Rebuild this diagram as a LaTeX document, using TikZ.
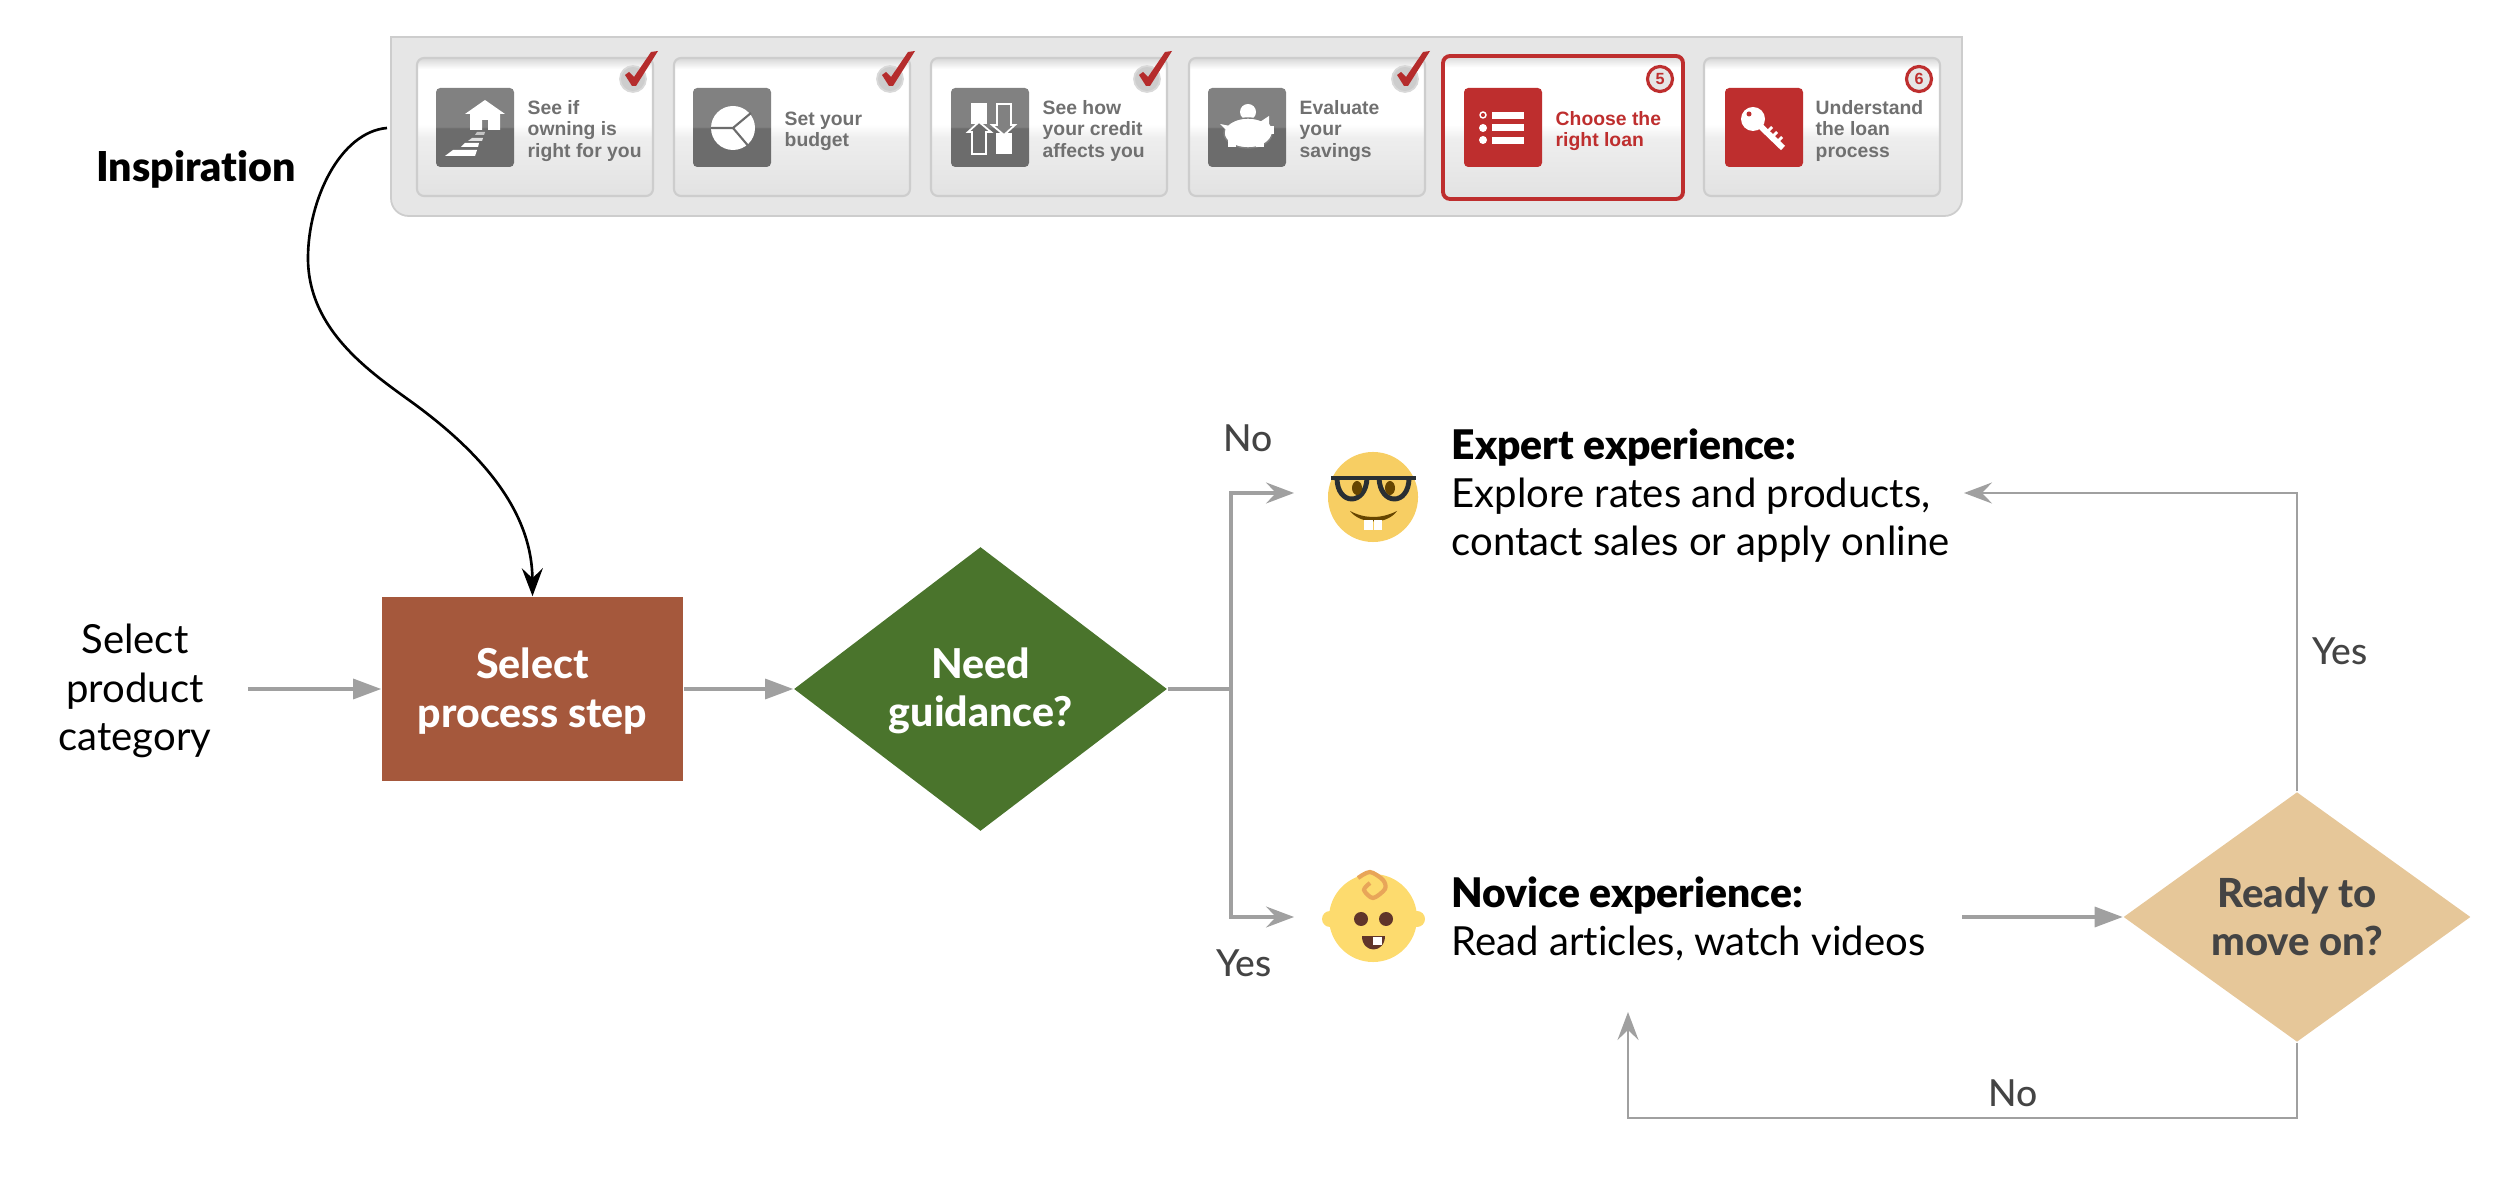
\documentclass[tikz,border=0pt]{standalone}
\usepackage{fontspec}
\setmainfont[Ligatures=NoCommon,BoldFont={Lato Black}]{Lato}
\newfontfamily\cardfont{Liberation Sans}
\newfontfamily\mediumfont[Ligatures=NoCommon]{Lato Medium}
\newfontfamily\heavyfont[Ligatures=NoCommon]{Lato Heavy}
\usetikzlibrary{arrows.meta}
\usetikzlibrary{shapes.geometric}
\definecolor{stepbrown} {RGB}{165, 88, 60}
\definecolor{needgreen} {RGB}{74, 116, 44}
\definecolor{readytan}  {RGB}{230,199,153}
\definecolor{flowgray}  {RGB}{160,160,160}
\definecolor{labelgray} {RGB}{68, 68, 68}
\definecolor{panelgray} {RGB}{230,230,230}
\definecolor{edgegray}  {RGB}{205,205,205}
\definecolor{icontop}   {RGB}{129,129,129}
\definecolor{iconbot}   {RGB}{108,108,108}
\definecolor{cardtext}  {RGB}{112,112,112}
\definecolor{loanred}   {RGB}{190, 46, 46}
\definecolor{cardlow}   {RGB}{226,226,226}
\definecolor{cardmid}   {RGB}{238,238,238}
\definecolor{cardrim}   {RGB}{215,215,215}
\definecolor{nerdyellow}{RGB}{247,206, 99}
\definecolor{babyyellow}{RGB}{253,219,110}
\definecolor{curlorange}{RGB}{232,165, 89}
\definecolor{glassdark} {RGB}{41, 47, 51}
\definecolor{eyebrown}  {RGB}{102, 69,  0}
\definecolor{babybrown} {RGB}{96, 53, 42}
\pgfdeclareverticalshading{cardshade}{100bp}{color(0bp)=(cardlow);color(25bp)=(cardlow);
  color(46bp)=(cardmid);color(51bp)=(white);color(71bp)=(white);color(75bp)=(cardrim);color(100bp)=(cardrim)}
\pgfdeclareverticalshading{iconshade}{100bp}{color(0bp)=(iconbot);color(49.5bp)=(iconbot);color(50.5bp)=(icontop);color(100bp)=(icontop)}
\tikzset{
    bodytext/.style={font=\fontsize{11.4}{13.7}\selectfont, align=center, inner sep=0pt},
    sidetext/.style={bodytext, align=left, anchor=west},
    headtext/.style={font=\heavyfont\fontsize{11.7}{13.7}\selectfont},
    branchlabel/.style={font=\mediumfont\fontsize{10.6}{13}\selectfont, text=labelgray, inner sep=0pt},
    stepbox/.style={rectangle, fill=stepbrown, text=white, bodytext, headtext,
             minimum width=3.01cm, minimum height=1.84cm},
    decision/.style={diamond, bodytext, headtext},
    flowline/.style={draw=flowgray, line width=0.9pt},
    solidflow/.style={flowline, -{Triangle[length=2.8mm,width=2mm]}},
    notchflow/.style={flowline, -{Stealth[length=2.8mm,width=2.1mm,inset=1mm]}},
    cardbox/.style={draw=edgegray, line width=0.6pt, rounded corners=2pt, shading=cardshade},
    grayicon/.style={rounded corners=1.2pt, shading=iconshade},
    redicon/.style={rounded corners=1.2pt, fill=loanred},
    cardlabel/.style={anchor=west, align=left, inner sep=0pt, text=cardtext,
             font=\cardfont\bfseries\fontsize{5.5}{6}\selectfont},
    donecircle/.style={fill=edgegray, draw=white!85!black, line width=0.5pt},
    todocircle/.style={circle, fill=panelgray, draw=loanred, line width=0.9pt, minimum size=.25cm, inner sep=0pt,
             text=loanred, font=\cardfont\bfseries\fontsize{4.6}{5}\selectfont}
}
% one card with its frame, x is the left edge
\newcommand{\stepcard}[1]{\path[cardbox] (#1,58) rectangle ++(236,138);}
% grey disc and red tick, x is the right edge of the card
\newcommand{\cardtick}[1]{
     \filldraw[donecircle] (#1-20,79) circle (13);
     \fill[loanred!95!black] (#1-28,75) -- (#1-24,72) -- (#1-19,77) -- (#1-2,52) -- (#1+5,51) -- (#1-17,86) -- (#1-21,86) -- cycle;
}
\begin{document}
\begin{tikzpicture}[x=0.01cm,y=-0.01cm]
 \useasboundingbox (0,0) rectangle (2500,1183);
 %Panel
     \filldraw[fill=panelgray,draw=edgegray,line width=0.5pt] (391,37) -- (1962,37) [rounded corners=5pt] -- (1962,216) -- (391,216) [sharp corners] -- cycle;
     \stepcard{417}
     \stepcard{674}
     \stepcard{931}
     \stepcard{1189}
     \stepcard{1704}
     \path[cardbox,draw=loanred,line width=1.1pt] (1443,56) rectangle (1683,199);
 %Card icons
     \path[grayicon] (436,88) rectangle ++(78,79);
     \path[grayicon] (693,88) rectangle ++(78,79);
     \path[grayicon] (951,88) rectangle ++(78,79);
     \path[grayicon] (1208,88) rectangle ++(78,79);
     \path[redicon] (1464,88) rectangle ++(78,79);
     \path[redicon] (1725,88) rectangle ++(78,79);
 %House
     \begin{scope}[shift={(436,88)},white]
     \fill (49,12) -- (69,26) -- (64,26) -- (64,42) -- (52,42) -- (52,32) -- (46,32) -- (46,42) -- (34,42) -- (34,26) -- (29,26) -- cycle;
     \fill (9,68) -- (39,68) -- (41,62) -- (17,62) -- cycle;
     \fill (25,59) -- (42,59) -- (43,55) -- (29,55) -- cycle;
     \fill[opacity=.8] (32,53) -- (46,53) -- (47,50) -- (36,50) -- cycle;
     \fill[opacity=.6] (39,47) -- (48,47) -- (49,44) -- (41,44) -- cycle;
     \end{scope}
 %Pie
     \begin{scope}[shift={(693,88)}]
     \fill[white] (40,40) circle (22);
     \draw[iconbot,line width=0.6pt] (18,40) -- (40,40) -- (58,25);
     \draw[iconbot,line width=0.6pt] (40,40) -- (57,60);
     \end{scope}
 %Credit arrows
     \begin{scope}[shift={(951,88)},line width=0.5pt]
     \fill[white] (20,15) rectangle (36,36);
     \filldraw[fill=iconbot,draw=white] (28,34) -- (40,44) -- (35,44) -- (35,66) -- (21,66) -- (21,44) -- (17,44) -- cycle;
     \fill[white] (45,45) rectangle (61,66);
     \filldraw[fill=icontop,draw=white] (46,16) -- (60,16) -- (60,37) -- (64,37) -- (53,47) -- (41,37) -- (46,37) -- cycle;
     \end{scope}
 %Piggy
     \begin{scope}[shift={(1208,88)},white]
     \fill (40,24) circle (8);
     \filldraw[draw=icontop,line width=0.4pt] (40,45) ellipse (24 and 15);
     \fill (54,43) circle (10);
     \fill (58,38) rectangle (66,46);
     \fill (52,34) -- (61,28) -- (61,38) -- cycle;
     \fill (20,52) rectangle (28,59);
     \fill (48,52) rectangle (56,59);
     \fill (12,36) -- (22,38) -- (20,44) -- cycle;
     \end{scope}
 %List
     \begin{scope}[shift={(1464,88)},white]
     \fill (28,24) rectangle (60,31);
     \fill (28,36) rectangle (60,43);
     \fill (28,49) rectangle (60,56);
     \draw[line width=0.4pt] (19,27) circle (3);
     \fill (19,40) circle (4);
     \fill (19,52) circle (4);
     \end{scope}
 %Key
     \begin{scope}[shift={(1725,88)},white]
     \fill (28,31) circle (12);
     \draw[line width=1.7pt] (30,33) -- (58,60);
     \draw[line width=0.8pt] (43,43) -- (47,39) (48,48) -- (52,44) (53,53) -- (57,49);
     \fill[loanred] (24,26) circle (2.5);
     \end{scope}
 %Card marks
     \cardtick{653}
     \cardtick{910}
     \cardtick{1167}
     \cardtick{1425}
     \node[todocircle] (five) at (1660,79) {5};
     \node[todocircle] (six) at (1919,79) {6};
 %Card texts
     \node[cardlabel] (owning) at (527,131) {See if\\owning is\\right for you};
     \node[cardlabel] (budget) at (784,131) {Set your\\budget};
     \node[cardlabel] (credit) at (1042,131) {See how\\your credit\\affects you};
     \node[cardlabel] (savings) at (1299,131) {Evaluate\\your\\savings};
     \node[cardlabel,text=loanred] (loan) at (1555,131) {Choose the\\right loan};
     \node[cardlabel] (process) at (1815,131) {Understand\\the loan\\process};
 %Flow nodes
     \node[bodytext,minimum width=2.24cm] (category) at (135,691) {Select\\product\\category};
     \node[stepbox] (step) at (532.5,689) {\rule{0pt}{.35cm}Select\\process step};
     \node[decision,fill=needgreen,text=white,minimum width=3.73cm,minimum height=2.84cm] (need) at (980.5,689) {\rule{0pt}{.35cm}Need\\guidance?};
     \node[decision,fill=readytan,text=labelgray,font=\heavyfont\fontsize{11.4}{13.7}\selectfont,minimum width=3.47cm,minimum height=2.49cm] (ready) at (2297,917) {Ready to\\move on?};
     \node[bodytext,font=\fontsize{11.7}{13.7}\selectfont\bfseries] (inspiration) at (196,169) {Inspiration};
     \node[sidetext] (expert) at (1451,495.5) {{\bfseries\fontsize{11.6}{13.7}\selectfont Expert experience:}\\Explore rates and products,\\contact sales or apply online};
     \node[sidetext] (novice) at (1451,919) {{\bfseries\fontsize{11.6}{13.7}\selectfont Novice experience:}\\Read articles, watch videos};
 %Branch labels
     \node[branchlabel] (lblno) at (1248,438) {No};
     \node[branchlabel] (lblyes) at (1244,963) {Yes};
     \node[branchlabel] (lblmove) at (2340,651) {Yes};
     \node[branchlabel] (lblback) at (2013,1093) {No};
 %Free ends
     \coordinate (panelend) at (387,128);
     \coordinate (split) at (1231,689);
     \coordinate (nerdin) at (1294,493);
     \coordinate (babyin) at (1294,917);
     \coordinate (expertin) at (1964,493);
     \coordinate (novicein) at (1628,1012);
     \coordinate (noviceout) at (1962,917);
 %Nerd face
     \node[circle,fill=nerdyellow,minimum size=.9cm,inner sep=0pt] (nerd) at (1373,497) {};
     \begin{scope}[shift={(1373,497)}]
     \draw[glassdark,line width=1.3pt] (-42,-19) -- (43,-19);
     \draw[glassdark,line width=1.4pt] (-36,-19) .. controls (-36,9) and (-7,9) .. (-6,-19);
     \draw[glassdark,line width=1.4pt] (6,-19) .. controls (7,9) and (36,9) .. (36,-19);
     \fill[eyebrown] (-16,-9) ellipse (5 and 7);
     \fill[eyebrown] (17,-9) ellipse (5 and 7);
     \fill[eyebrown] (-23,14) .. controls (-8,22) and (8,22) .. (24,14) .. controls (14,28) and (-12,28) .. cycle;
     \fill[white] (-9,23) rectangle (0,33);
     \fill[white] (1,23) rectangle (9,33);
     \end{scope}
 %Baby face
     \node[circle,fill=babyyellow,minimum size=.88cm,inner sep=0pt] (baby) at (1373,918) {};
     \begin{scope}[shift={(1373,918)}]
     \fill[babyyellow] (-43,1) circle (8);
     \fill[babyyellow] (44,1) circle (8);
     \fill[babybrown] (-12,1) circle (7);
     \fill[babybrown] (13,1) circle (7);
     \fill[babybrown] (-11,18) -- (12,18) .. controls (12,36) and (-11,36) .. cycle;
     \fill[white] (0,19) rectangle (9,27);
     \draw[curlorange,line width=1.2pt] plot[smooth] coordinates {(-15,-40) (-3,-46) (10,-38) (12,-29) (0,-20) (-9,-28) (-3,-35)};
     \end{scope}
 %Inspiration curve
     \draw[black,line width=0.75pt,-{Stealth[length=2.8mm,width=2.1mm,inset=1mm]}] (panelend) .. controls (340,132) and (308,200) .. (308,258) .. controls (308,330) and (370,372) .. (413,403) .. controls (480,452) and (532,510) .. (step.north);
 %Main line
     \draw[solidflow] (category.east |- step.west) -- (step.west);
     \draw[solidflow] (step.east) -- (need.west);
     \draw[flowline] (need.east) -- (split);
 %Branches
     \draw[notchflow] (split) |- (nerdin);
     \draw[notchflow] (split) |- (babyin);
 %Novice to ready
     \draw[solidflow] (noviceout) -- (ready.west);
 %Ready loops
     \draw[notchflow,line width=0.75pt] (ready.north) |- (expertin);
     \draw[notchflow,line width=0.75pt] (ready.south) -- (2297,1118) -| (novicein);
 \end{tikzpicture}
\end{document}
